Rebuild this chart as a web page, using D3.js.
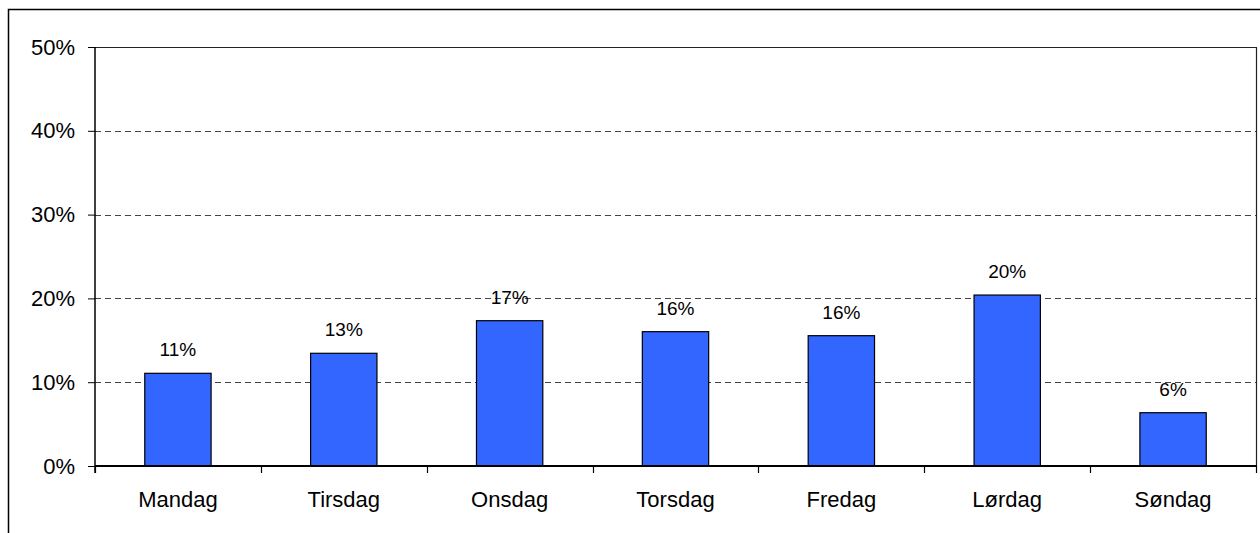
<!DOCTYPE html>
<html><head><meta charset="utf-8">
<script src="https://cdn.jsdelivr.net/npm/d3@7"></script>
<style>body{margin:0;background:#fff}svg{display:block}</style>
</head><body>
<script>
const categories = ["Mandag","Tirsdag","Onsdag","Torsdag","Fredag","Lørdag","Søndag"];
const values = [11.06, 13.45, 17.34, 16.03, 15.55, 20.4, 6.36];
const labels = ["11%","13%","17%","16%","16%","20%","6%"];
const yTicks = [0,10,20,30,40,50];

const W = 1260, H = 533;
const m = {left:95, top:47, right:1256, bottom:466};
const FONT = "'Liberation Sans', Arial, sans-serif";
const svg = d3.select("body").append("svg").attr("width",W).attr("height",H)
  .style("font-family",FONT);

// outer frame (cut at right and bottom)
svg.append("path").attr("d",`M8.5,${H}V9.5H${W}`).attr("fill","none").attr("stroke","#000").attr("stroke-width",1.5);

const x = d3.scaleBand().domain(categories).range([m.left,m.right]).paddingInner(0.6).paddingOuter(0.3);
const xb = d3.scaleBand().domain(categories).range([m.left,m.right]);
const y = d3.scaleLinear().domain([0,50]).range([m.bottom,m.top]);

// grid
svg.append("g").selectAll("line").data(yTicks.filter(d=>d>0&&d<50)).join("line")
  .attr("x1",m.left).attr("x2",m.right).attr("y1",d=>Math.round(y(d))+0.5).attr("y2",d=>Math.round(y(d))+0.5)
  .attr("stroke","#444").attr("stroke-dasharray","6,4");

// plot border top/right
svg.append("path").attr("d",`M${m.left},${m.top+0.5}H${m.right+0.5}V${m.bottom}`)
  .attr("fill","none").attr("stroke","#222").attr("stroke-width",1.2);

// bars
svg.append("g").selectAll("rect").data(values).join("rect")
  .attr("x",(d,i)=>x(categories[i])).attr("width",x.bandwidth())
  .attr("y",d=>y(d)).attr("height",d=>m.bottom-y(d))
  .attr("fill","#3366FF").attr("stroke","#000").attr("stroke-width",1.2);

// value labels
svg.append("g").selectAll("text").data(values).join("text")
  .attr("x",(d,i)=>x(categories[i])+x.bandwidth()/2).attr("y",d=>y(d)-17)
  .attr("text-anchor","middle").attr("font-size",19).text((d,i)=>labels[i]);

// y axis
const ya = svg.append("g").attr("transform",`translate(${m.left},0)`)
  .call(d3.axisLeft(y).tickValues(yTicks).tickFormat(d=>d+"%").tickSize(7).tickPadding(13));
ya.select(".domain").attr("stroke","#000").attr("stroke-width",1.5).attr("d",`M0,${m.top}V${m.bottom+7}`);
ya.selectAll("text").attr("font-size",22).attr("font-family",FONT).attr("fill","#000");

// x axis
const xa = svg.append("g").attr("transform",`translate(0,${m.bottom})`)
  .call(d3.axisBottom(xb).tickSize(0).tickPadding(0));
xa.select(".domain").attr("stroke","#000").attr("stroke-width",2).attr("d",`M${m.left},0H${m.right+1}`);
xa.selectAll("text").attr("font-size",22).attr("font-family",FONT).attr("fill","#000").attr("y",41).attr("dy",0);
// category boundary ticks
const bounds = categories.map(c=>xb(c)).concat([m.right]);
xa.append("g").selectAll("line").data(bounds).join("line")
  .attr("x1",d=>Math.round(d)+0.5).attr("x2",d=>Math.round(d)+0.5).attr("y1",0).attr("y2",7)
  .attr("stroke","#000").attr("stroke-width",1.2);
</script>
</body></html>
